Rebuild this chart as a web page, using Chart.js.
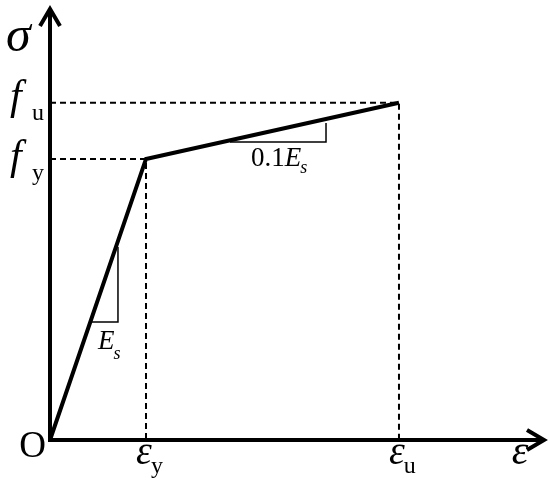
<!DOCTYPE html>
<html>
<head>
<meta charset="utf-8">
<script src="https://cdn.jsdelivr.net/npm/chart.js@4"></script>
<style>
  html, body { margin: 0; padding: 0; background: #fff; }
  #wrap { width: 550px; height: 485px; }
</style>
</head>
<body>
<div id="wrap"><canvas id="stressStrain"></canvas></div>
<script>
// bilinear steel model, strain in units of eps_y, stress in units of f_y
const strain = [0, 1, 3.635];          // O, eps_y, eps_u
const stress = [0, 1, 1.2];            // 0, f_y, f_u
const axisMax = { x: 5.156, y: 1.537 };

// small slope triangles
const triEsX = [0.4375, 0.708, 0.708];
const triEsY = [0.420, 0.420, 0.687];
const triHardX = [1.875, 2.875, 2.875];
const triHardY = [1.0605, 1.0605, 1.128];

// tick labels (main glyph + subscript)
const xTickValues = [strain[1], strain[2]];
const xTickMain = ['ε', 'ε'];
const xTickSub = ['y', 'u'];
const yTickValues = [stress[2], stress[1]];
const yTickMain = ['f', 'f'];
const yTickSub = ['u', 'y'];
const originLabel = 'O';
const xAxisTitle = 'ε';
const yAxisTitle = 'σ';
const slopeLabels = ['E', '0.1'];

const toPts = (xs, ys) => xs.map((x, i) => ({ x: x, y: ys[i] }));

const SERIF = '"Liberation Serif", "Times New Roman", serif';

const axesPlugin = {
    id: 'axesAndLabels',
    beforeDatasetsDraw(chart) {
        const c = chart.ctx, xs = chart.scales.x, ys = chart.scales.y;
        const x0 = xs.getPixelForValue(0), y0 = ys.getPixelForValue(0);
        const xEnd = xs.getPixelForValue(axisMax.x), yEnd = ys.getPixelForValue(axisMax.y);
        c.save();
        c.strokeStyle = '#000';
        c.lineWidth = 4;
        c.lineJoin = 'miter';
        c.beginPath();
        c.moveTo(x0, y0 + 2); c.lineTo(x0, yEnd + 1);
        c.moveTo(x0 - 2, y0); c.lineTo(xEnd - 1, y0);
        c.stroke();
        // arrow heads
        c.beginPath();
        c.moveTo(x0 - 10, yEnd + 18); c.lineTo(x0, yEnd + 1); c.lineTo(x0 + 10, yEnd + 18);
        c.moveTo(xEnd - 18, y0 - 10); c.lineTo(xEnd - 1, y0); c.lineTo(xEnd - 18, y0 + 10);
        c.stroke();
        c.restore();
    },
    afterDatasetsDraw(chart) {
        const c = chart.ctx, xs = chart.scales.x, ys = chart.scales.y;
        const x0 = xs.getPixelForValue(0), y0 = ys.getPixelForValue(0);
        c.save();
        c.fillStyle = '#000';
        c.textBaseline = 'alphabetic';

        // origin
        c.font = '37px ' + SERIF;
        c.textAlign = 'right';
        c.fillText(originLabel, x0 - 4, y0 + 17);

        // x tick labels
        xTickValues.forEach((v, i) => {
            const px = xs.getPixelForValue(v);
            c.font = 'italic 40px ' + SERIF;
            c.textAlign = 'center';
            c.fillText(xTickMain[i], px - 2, y0 + 24);
            const w = c.measureText(xTickMain[i]).width;
            c.font = '24px ' + SERIF;
            c.textAlign = 'left';
            c.fillText(xTickSub[i], px - 3 + w / 2, y0 + 33);
        });

        // y tick labels
        const yOff = [[6, 17], [10, 21]];
        yTickValues.forEach((v, i) => {
            const py = ys.getPixelForValue(v);
            c.font = 'italic 42px ' + SERIF;
            c.textAlign = 'left';
            c.fillText(yTickMain[i], 10, py + yOff[i][0]);
            c.font = '24px ' + SERIF;
            c.fillText(yTickSub[i], 32, py + yOff[i][1]);
        });

        // axis titles
        c.font = 'italic 42px ' + SERIF;
        c.textAlign = 'center';
        c.fillText(xAxisTitle, 520, y0 + 24);
        c.font = 'italic 50px ' + SERIF;
        c.textAlign = 'left';
        c.fillText(yAxisTitle, 6, 51);

        // slope labels
        c.font = 'italic 27px ' + SERIF;
        c.textAlign = 'left';
        c.fillText(slopeLabels[0], 98, 349);
        let w = c.measureText(slopeLabels[0]).width;
        c.font = 'italic 18px ' + SERIF;
        c.fillText('s', 98 + w - 1, 359);

        c.font = '27px ' + SERIF;
        c.fillText(slopeLabels[1], 251, 166);
        w = c.measureText(slopeLabels[1]).width;
        c.font = 'italic 27px ' + SERIF;
        c.fillText('E', 251 + w, 166);
        const wE = c.measureText('E').width;
        c.font = 'italic 18px ' + SERIF;
        c.fillText('s', 251 + w + wE - 1, 173);
        c.restore();
    }
};

const lineDefaults = { showLine: true, pointRadius: 0, borderColor: '#000', fill: false, clip: false, tension: 0 };

new Chart(document.getElementById('stressStrain'), {
    type: 'scatter',
    data: {
        datasets: [
            Object.assign({ data: [{ x: 0, y: stress[1] }, { x: strain[1], y: stress[1] }, { x: strain[1], y: 0 }],
                borderWidth: 2, borderDash: [6, 4] }, lineDefaults),
            Object.assign({ data: [{ x: 0, y: stress[2] }, { x: strain[2], y: stress[2] }, { x: strain[2], y: 0 }],
                borderWidth: 2, borderDash: [6, 4] }, lineDefaults),
            Object.assign({ data: toPts(triEsX, triEsY), borderWidth: 1.5 }, lineDefaults),
            Object.assign({ data: toPts(triHardX, triHardY), borderWidth: 1.5 }, lineDefaults),
            Object.assign({ data: toPts(strain, stress), borderWidth: 4, borderJoinStyle: 'miter' }, lineDefaults)
        ]
    },
    options: {
        responsive: true,
        maintainAspectRatio: false,
        animation: false,
        layout: { padding: { left: 50, right: 5, top: 8, bottom: 45 } },
        scales: {
            x: { type: 'linear', display: false, min: 0, max: axisMax.x },
            y: { type: 'linear', display: false, min: 0, max: axisMax.y }
        },
        plugins: { legend: { display: false }, tooltip: { enabled: false } }
    },
    plugins: [axesPlugin]
});
</script>
</body>
</html>
